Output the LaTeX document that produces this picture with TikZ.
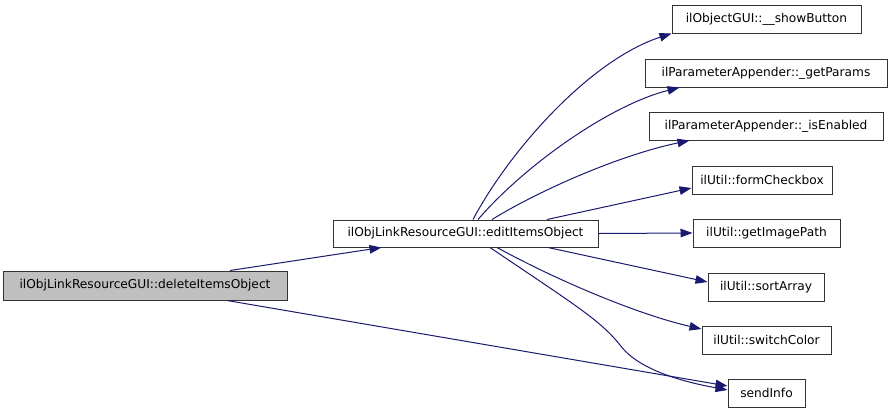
\documentclass[tikz,border=0pt]{standalone}
\usepackage{fontspec}
\setmainfont{DejaVu Sans}
\usetikzlibrary{arrows.meta}
\definecolor{edgeblue}{HTML}{191970}
\definecolor{boxgray}{HTML}{BFBFBF}
\tikzset{
  fn/.style={draw=black!80, line width=1pt, inner sep=0pt, minimum height=28pt, font=\fontsize{12.2}{14}\selectfont, anchor=center},
  call/.style={draw=edgeblue, line width=1pt, -{Triangle[length=12pt,width=8.5pt]}}
}
\begin{document}
\begin{tikzpicture}[x=1pt,y=-1pt]
\useasboundingbox (0,0) rectangle (893,413);
\node[fn, fill=boxgray, minimum width=284pt, minimum height=29pt] (del) at (145,285.5) {ilObjLinkResourceGUI::deleteItemsObject};
\node[fn, minimum width=265pt, minimum height=27pt] (edit) at (465.5,233.5) {ilObjLinkResourceGUI::editItemsObject};
\node[fn, minimum width=189pt] (show) at (766.5,19) {ilObjectGUI::\_\_showButton};
\node[fn, minimum width=242pt] (getp) at (766,73) {ilParameterAppender::\_getParams};
\node[fn, minimum width=234pt] (isen) at (766,126) {ilParameterAppender::\_isEnabled};
\node[fn, minimum width=140pt] (form) at (762,180) {ilUtil::formCheckbox};
\node[fn, minimum width=147pt] (gimg) at (766.5,233) {ilUtil::getImagePath};
\node[fn, minimum width=116pt] (sort) at (766,287) {ilUtil::sortArray};
\node[fn, minimum width=129pt] (swc) at (766.5,340) {ilUtil::switchColor};
\node[fn, minimum width=77pt] (send) at (766.5,393) {sendInfo};

\draw[call] ([xshift=85pt]del.north) -- ([xshift=49pt]edit.south west);
\draw[call] ([xshift=82pt]del.south) -- ([yshift=7pt]send.west);

\draw[call] ([xshift=7.5pt]edit.north) .. controls (510,150) and (590,60) .. (show.south west);
\draw[call] ([xshift=12.5pt]edit.north) .. controls (525,165) and (610,105) .. ([xshift=35pt]getp.south west);
\draw[call] ([xshift=26.5pt]edit.north) .. controls (540,190) and (620,155) .. ([xshift=41pt]isen.south west);
\draw[call] ([xshift=81.5pt]edit.north) -- ([yshift=-8pt]form.west);
\draw[call] (edit.east) -- (gimg.west);
\draw[call] ([xshift=82.5pt]edit.south) -- ([yshift=5pt]sort.west);
\draw[call] ([xshift=31.5pt]edit.south) .. controls (560,282) and (640,315) .. ([yshift=11pt]swc.west);
\draw[call] ([xshift=24.5pt]edit.south) .. controls (575,305) and (600,320) .. (620,345) .. controls (640,372) and (690,383) .. ([yshift=3pt]send.west);
\end{tikzpicture}
\end{document}
